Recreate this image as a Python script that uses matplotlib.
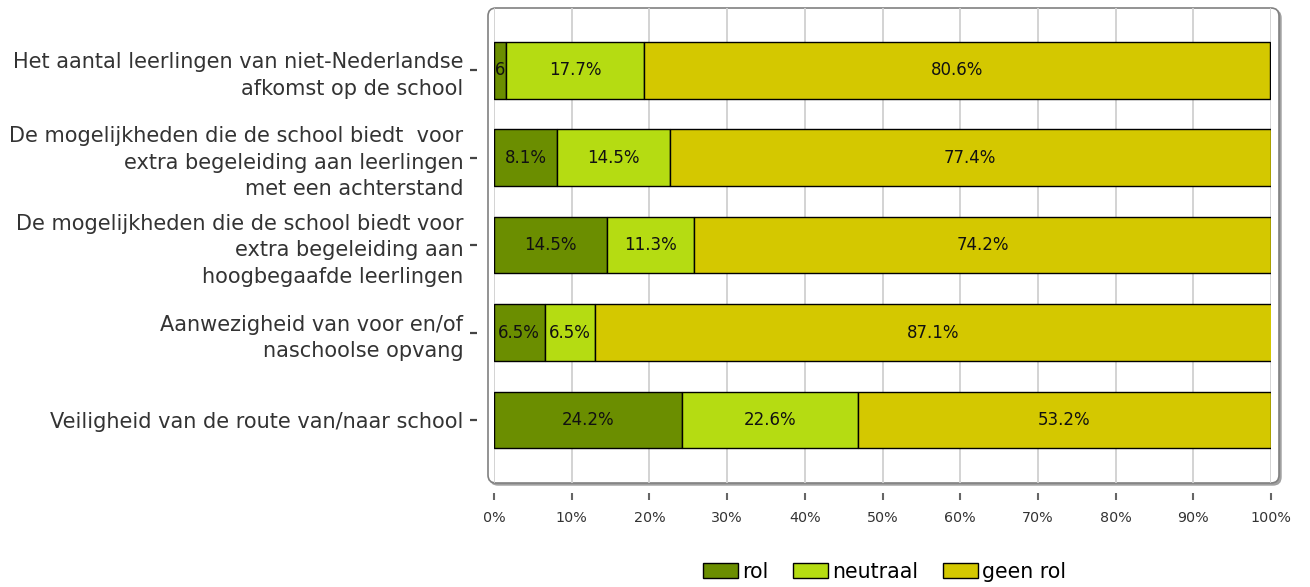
import matplotlib.pyplot as plt
import numpy as np
from matplotlib.patches import FancyBboxPatch
from matplotlib.transforms import IdentityTransform

plt.rcParams["font.family"] = "DejaVu Sans"

categories = [
    "Het aantal leerlingen van niet-Nederlandse\nafkomst op de school",
    "De mogelijkheden die de school biedt  voor\nextra begeleiding aan leerlingen\nmet een achterstand",
    "De mogelijkheden die de school biedt voor\nextra begeleiding aan\nhoogbegaafde leerlingen",
    "Aanwezigheid van voor en/of\nnaschoolse opvang",
    "Veiligheid van de route van/naar school",
]
rol = [1.6, 8.1, 14.5, 6.5, 24.2]
neutraal = [17.7, 14.5, 11.3, 6.5, 22.6]
geen_rol = [80.6, 77.4, 74.2, 87.1, 53.2]
series = [("rol", rol, "#6b8e00"), ("neutraal", neutraal, "#b5dc12"), ("geen rol", geen_rol, "#d4c800")]
xticks = np.arange(0, 101, 10)

fig = plt.figure(figsize=(13.1, 5.87), dpi=100)
ax = fig.add_axes([494 / 1310, 1 - 483 / 587, 777 / 1310, 475 / 587])
ax.patch.set_visible(False)
# spines first: moving them resets the ticks
for s in ax.spines.values():
    s.set_visible(False)
ax.spines["left"].set_position(("outward", 12))
ax.spines["bottom"].set_position(("outward", 7))

# rounded frame with shadow, in pixels
shadow = FancyBboxPatch((490, 102), 791, 475, boxstyle="round,pad=0,rounding_size=8",
                        transform=IdentityTransform(), facecolor="#a0a0a0", edgecolor="#a0a0a0",
                        lw=1, zorder=-2)
frame = FancyBboxPatch((488, 104), 791, 475, boxstyle="round,pad=0,rounding_size=8",
                       transform=IdentityTransform(), facecolor="white", edgecolor="#808080",
                       lw=1.2, zorder=-1)
fig.patches.extend([shadow, frame])

y = np.arange(len(categories))
left = np.zeros(len(categories))
for name, vals, col in series:
    bars = ax.barh(y, vals, left=left, height=0.65, color=col, edgecolor="black", lw=1,
                   label=name, zorder=3)
    for b, v in zip(bars, vals):
        t = ax.text(b.get_x() + b.get_width() / 2, b.get_y() + b.get_height() / 2,
                    f"{v:.1f}%", ha="center", va="center", fontsize=12, color="#111111",
                    zorder=4, clip_on=True)
        t.set_clip_path(b)
    left += np.array(vals)

ax.set_xlim(0, 100)
ax.set_ylim(4.72, -0.71)
ax.set_xticks(xticks)
ax.set_xticklabels([f"{v}%" for v in xticks])
ax.set_yticks(y)
ax.set_yticklabels(categories, linespacing=1.4)
ax.xaxis.grid(True, color="#d0d0d0", lw=1.3, zorder=0)
ax.tick_params(axis="y", length=5, width=1.6, color="#444444", pad=5,
               labelsize=15, labelcolor="#333333")
ax.tick_params(axis="x", length=5, width=1.5, color="#666666", pad=8,
               labelsize=10.3, labelcolor="#333333")

fig.legend(loc="center", bbox_to_anchor=(0.675, 0.026), ncol=3, frameon=False, fontsize=14.8,
           handlelength=1.7, handleheight=0.75, handletextpad=0.2, columnspacing=1.2)

plt.savefig("out.png", dpi=100)
